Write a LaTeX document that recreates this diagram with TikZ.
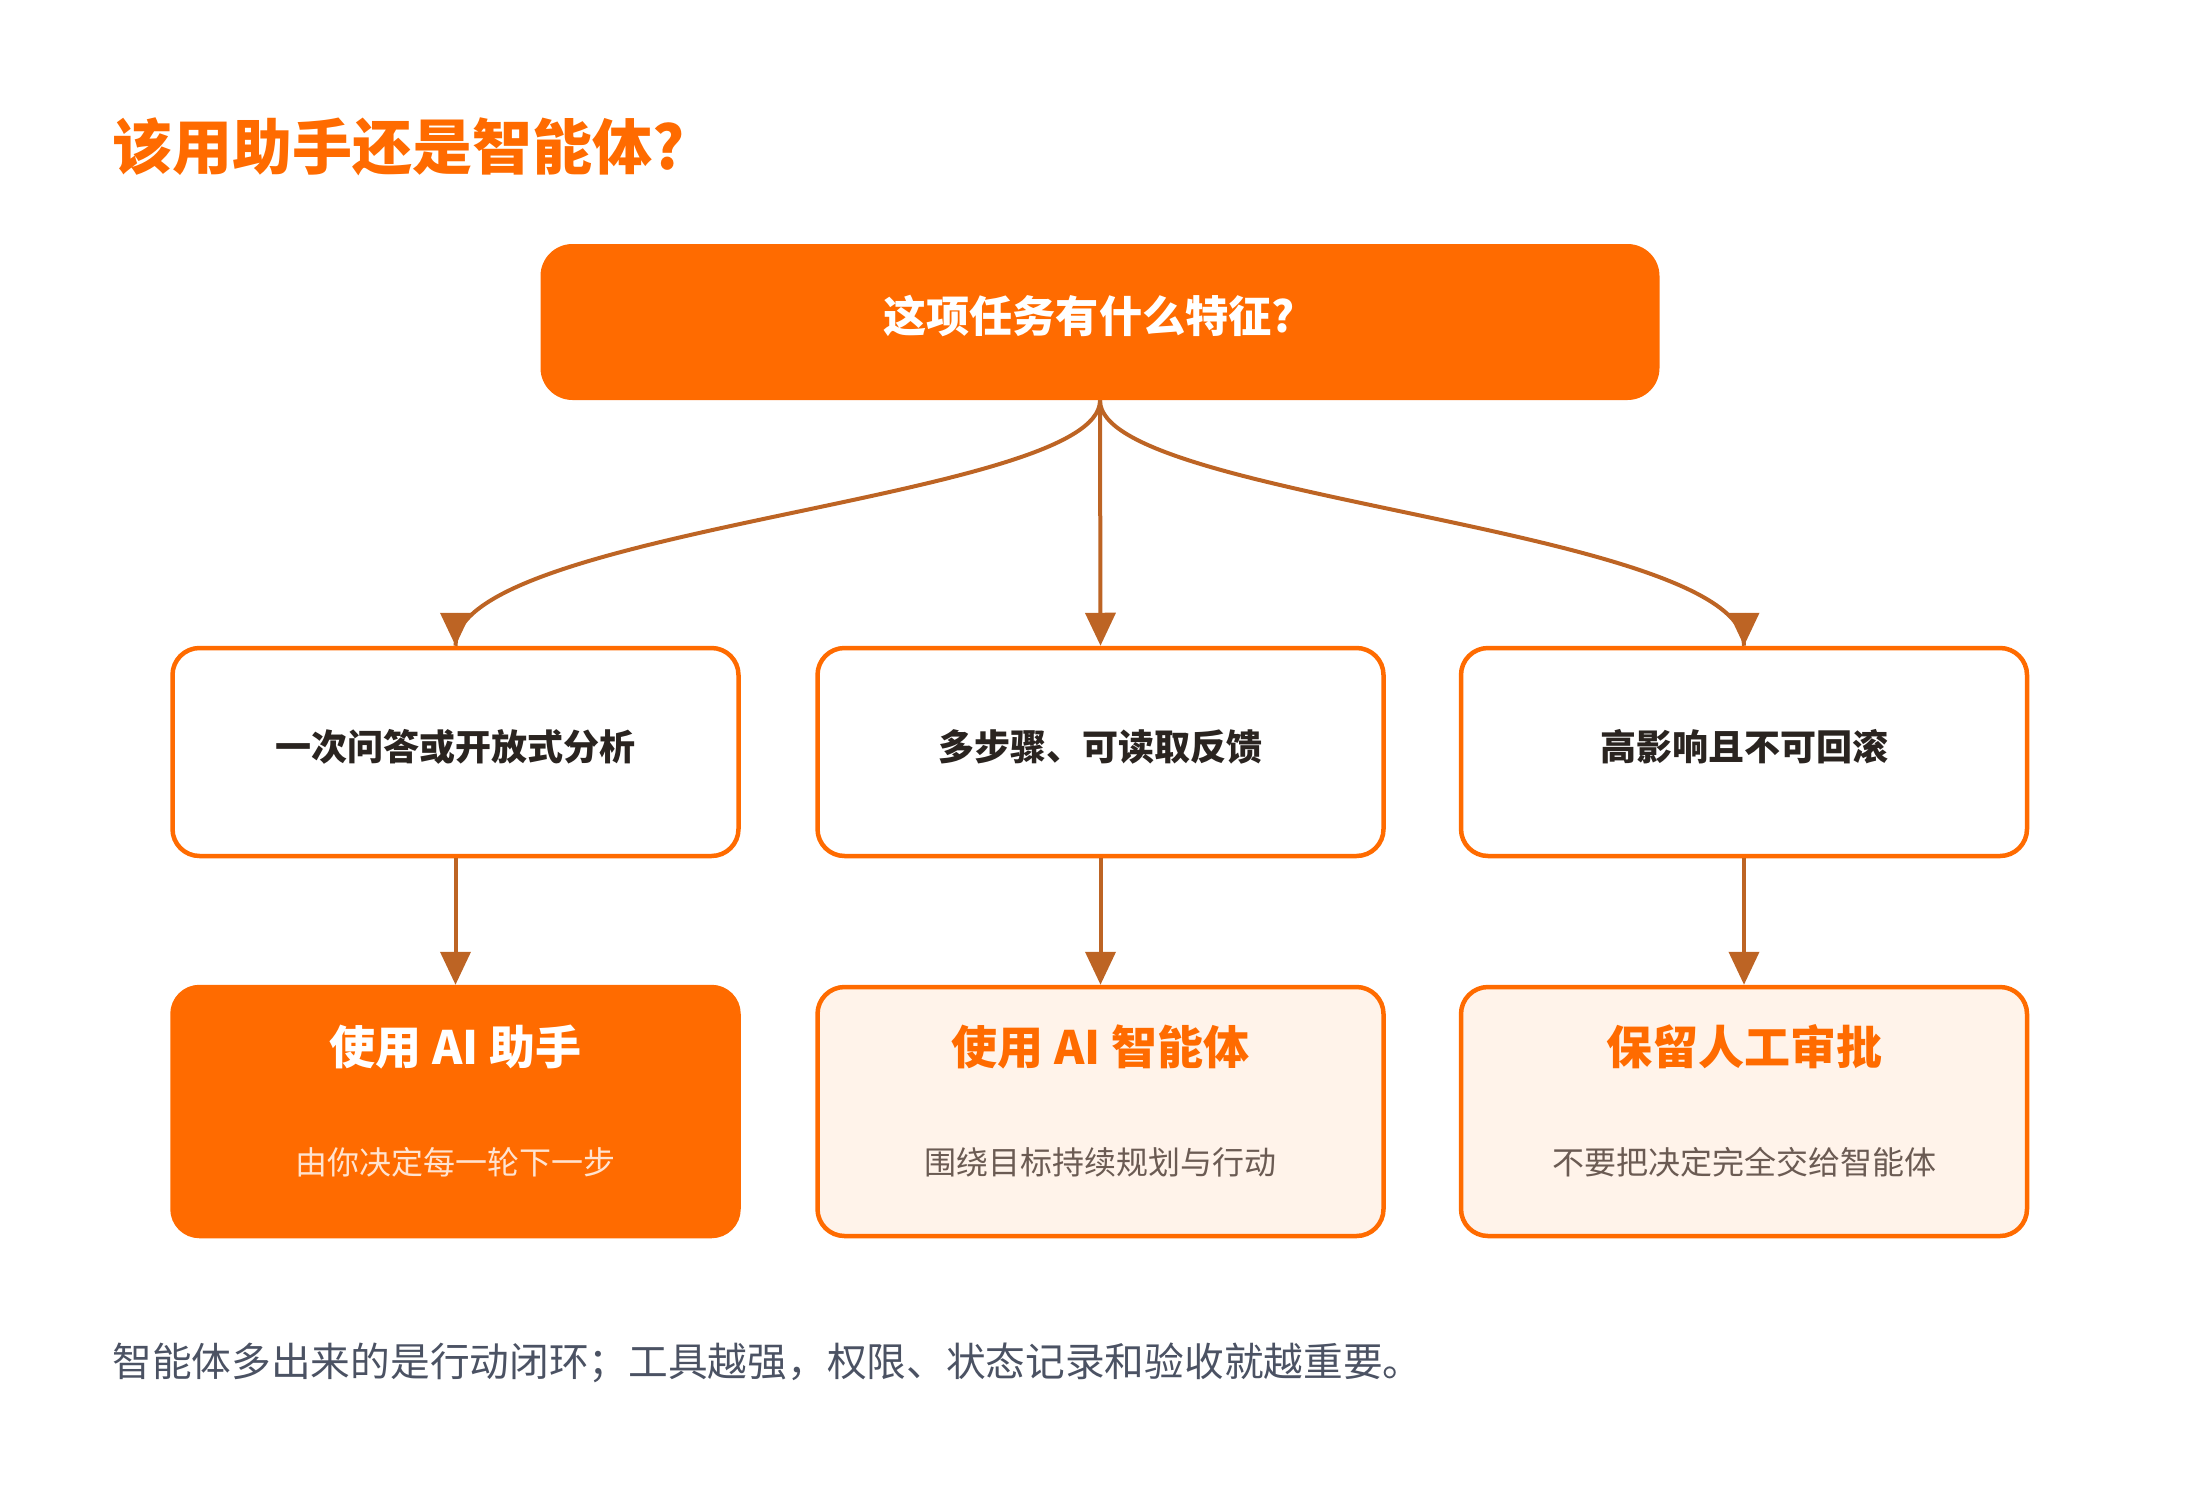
\documentclass[tikz,border=0pt]{standalone}
\usepackage{fontspec}
\setmainfont{Noto Sans CJK SC}
\usetikzlibrary{arrows.meta}
\definecolor{org}{HTML}{FF6B00}
\definecolor{arrc}{HTML}{BD6424}
\definecolor{darktxt}{HTML}{2A2420}
\definecolor{peach}{HTML}{FFF3EA}
\definecolor{subgray}{HTML}{6B5B53}
\definecolor{footgray}{HTML}{4B5263}
\definecolor{sublight}{HTML}{FFE3D0}
\begin{document}
\begin{tikzpicture}[x=0.5pt,y=-0.5pt,
  topbox/.style={fill=org, rounded corners=16pt, minimum width=559.5pt, minimum height=78pt, inner sep=0pt},
  midbox/.style={draw=org, line width=2.25pt, fill=white, rounded corners=13.5pt, minimum width=283pt, minimum height=104pt, inner sep=0pt},
  resbox/.style={draw=org, line width=2.25pt, fill=peach, rounded corners=13.5pt, minimum width=283pt, minimum height=124.5pt, inner sep=0pt},
  resboxfill/.style={resbox, fill=org},
  midtxt/.style={font=\bfseries\fontsize{18pt}{20pt}\selectfont, text=darktxt, inner sep=0pt},
  restitle/.style={font=\bfseries\fontsize{23pt}{26pt}\selectfont, text=org, inner sep=0pt},
  ressub/.style={font=\fontsize{16pt}{18pt}\selectfont, text=subgray, inner sep=0pt},
  conn/.style={draw=arrc, line width=2pt},
  arr/.style={conn, -{Triangle[width=15pt,length=16.5pt]}}
]
\useasboundingbox (0,0) rectangle (2200,1488);

\node[anchor=west, inner sep=0pt, font=\bfseries\fontsize{30pt}{34pt}\selectfont, text=org] (title) at (112,147) {该用助手还是智能体?};

\node[topbox] (top) at (1100,322) {};
\node[inner sep=0pt, font=\bfseries\fontsize{21.6pt}{25pt}\selectfont, text=white] (toptxt) at (1089,316) {这项任务有什么特征?};

\node[midbox] (m1) at (455.5,752) {};
\node[midbox] (m2) at (1100.5,752) {};
\node[midbox] (m3) at (1744,752) {};
\node[midtxt] (m1t) at (455.5,747) {一次问答或开放式分析};
\node[midtxt] (m2t) at (1100.5,747) {多步骤、可读取反馈};
\node[midtxt] (m3t) at (1744,747) {高影响且不可回滚};

\node[resboxfill] (r1) at (455.5,1111.5) {};
\node[resbox] (r2) at (1100.5,1111.5) {};
\node[resbox] (r3) at (1744,1111.5) {};
\node[restitle, text=white] (r1t) at (455.5,1047) {使用 AI 助手};
\node[ressub, text=sublight] (r1s) at (455.5,1162) {由你决定每一轮下一步};
\node[restitle] (r2t) at (1100.5,1047) {使用 AI 智能体};
\node[ressub] (r2s) at (1100.5,1162) {围绕目标持续规划与行动};
\node[restitle] (r3t) at (1744,1047) {保留人工审批};
\node[ressub] (r3s) at (1744,1162) {不要把决定完全交给智能体};

% curved connectors, arrowheads drawn upright at the box tops
\draw[conn] (top.south) .. controls (1100,500) and (456,527) .. (m1.north);
\draw[conn] (top.south) .. controls (1100,500) and (1744,527) .. (m3.north);
\path (m1.north) ++(0,-33) coordinate (a1);
\path (m3.north) ++(0,-33) coordinate (a3);
\draw[arr] (a1) -- (m1.north);
\draw[arr] (a3) -- (m3.north);
\draw[arr] (top.south) -- (m2.north);
\draw[arr] (m1.south) -- (r1.north);
\draw[arr] (m2.south) -- (r2.north);
\draw[arr] (m3.south) -- (r3.north);

\node[anchor=west, inner sep=0pt, font=\fontsize{19.85pt}{22pt}\selectfont, text=footgray] (foot) at (112,1363) {智能体多出来的是行动闭环；工具越强，权限、状态记录和验收就越重要。};
\end{tikzpicture}
\end{document}
